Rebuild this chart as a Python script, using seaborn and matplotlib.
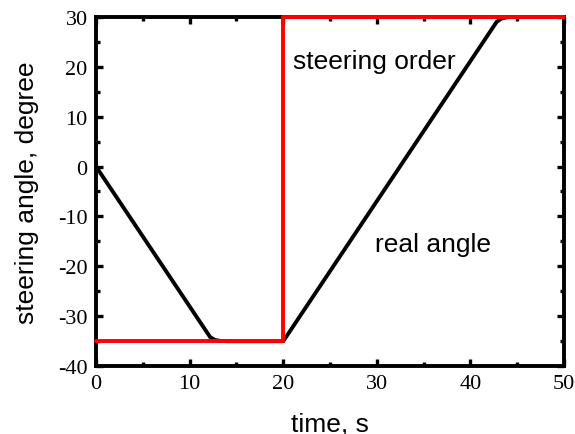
import pandas as pd
import seaborn as sns
import matplotlib.pyplot as plt
from matplotlib.ticker import MultipleLocator

# real steering angle
t_real = [0, 12.2, 12.7, 13.3, 14.0, 20.0, 42.8, 43.3, 43.9, 44.6, 50]
a_real = [0, -34.2, -34.75, -34.95, -35.0, -35.0, 29.0, 29.65, 29.92, 30.0, 30.0]

# steering order (step at 20 s)
t_order = [0, 20, 20, 50]
a_order = [-35, -35, 30, 30]

df_real = pd.DataFrame({"time": t_real, "angle": a_real})
df_order = pd.DataFrame({"time": t_order, "angle": a_order})

sns.set_style("ticks")
plt.rcParams["font.family"] = ["Liberation Sans", "DejaVu Sans"]
plt.rcParams["axes.unicode_minus"] = False
plt.rcParams["text.color"] = "black"
plt.rcParams["axes.labelcolor"] = "black"

fig = plt.figure(figsize=(5.75, 4.35), dpi=100)
ax = fig.add_axes([0.167, 0.156, 0.814, 0.803])

sns.lineplot(data=df_real, x="time", y="angle", color="black", lw=2.8,
             sort=False, estimator=None, ax=ax)
sns.lineplot(data=df_order, x="time", y="angle", color="#ff0000", lw=2.8,
             sort=False, estimator=None, ax=ax, clip_on=False, zorder=5)

ax.set_xlim(0, 50)
ax.set_ylim(-40, 30)
ax.xaxis.set_major_locator(MultipleLocator(10))
ax.xaxis.set_minor_locator(MultipleLocator(5))
ax.yaxis.set_major_locator(MultipleLocator(10))
ax.yaxis.set_minor_locator(MultipleLocator(5))
ax.tick_params(which="both", direction="in", top=True, right=True, width=2.4, colors="black")
ax.tick_params(which="major", length=5, pad=6)
ax.tick_params(which="minor", length=3)
for lab in ax.get_xticklabels() + ax.get_yticklabels():
    lab.set_family("Liberation Serif")
    lab.set_fontsize(16)
for sp in ax.spines.values():
    sp.set_linewidth(2.8)
    sp.set_color("black")

ax.set_xlabel("time, s", fontsize=19, labelpad=13)
ax.set_ylabel("steering angle, degree", fontsize=19, labelpad=14)

ax.text(21.0, 21.2, "steering order", fontsize=19, va="center")
ax.text(29.8, -15.5, "real angle", fontsize=19, va="center")

plt.savefig("out.png", dpi=100)
